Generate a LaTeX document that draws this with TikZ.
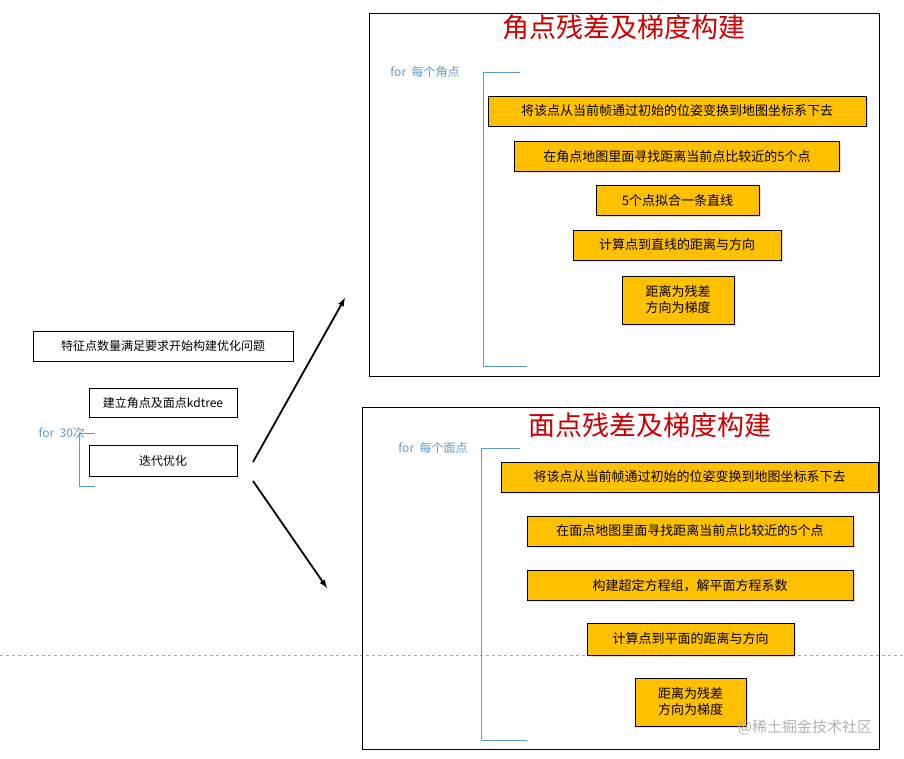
\documentclass[tikz,border=0pt]{standalone}
\usepackage{fontspec}
\setmainfont{Noto Sans CJK SC}
\usetikzlibrary{shadows}
\definecolor{gold}{HTML}{FFC000}
\definecolor{bl}{HTML}{5B9BD5}
\begin{document}
\begin{tikzpicture}[x=1pt,y=-1pt,
  ob/.style={draw=black,fill=gold,line width=0.8pt,minimum height=30pt,inner sep=0pt,font=\fontsize{13}{16}\selectfont,align=center,drop shadow={shadow xshift=1.5pt,shadow yshift=-1.5pt,opacity=0.25}},
  wb/.style={draw=black,fill=white,line width=0.6pt,minimum height=30pt,inner sep=0pt,font=\fontsize{12}{14}\selectfont},
  frm/.style={draw=black,line width=0.7pt},
  ttl/.style={text=red!80!black,font=\fontsize{27}{30}\selectfont},
  fl/.style={text=bl,font=\fontsize{12}{14}\selectfont},
  brk/.style={draw=bl,line width=0.8pt},
  arr/.style={draw=black,line width=1.8pt,-latex}]
\useasboundingbox (0,0) rectangle (904,759);
\draw[gray!70,dashed,line width=0.6pt] (0,655) -- (904,655);
% top frame
\node[frm,minimum width=510pt,minimum height=363pt,inner sep=0pt] (f1) at (624,194.5) {};
\node[ttl] (t1) at (624,27) {角点残差及梯度构建};
\node[fl] (l1) at (425,72) {for\ \ 每个角点};
\coordinate (b1a) at (520,72); \coordinate (b1b) at (527,366);
\draw[brk] (b1a) -- (483,72) -- (483,366) -- (b1b);
\node[ob,minimum width=378pt] (a1) at (677,111) {将该点从当前帧通过初始的位姿变换到地图坐标系下去};
\node[ob,minimum width=325pt] (a2) at (677,156.5) {在角点地图里面寻找距离当前点比较近的5个点};
\node[ob,minimum width=163pt] (a3) at (677.5,200.5) {5个点拟合一条直线};
\node[ob,minimum width=208pt] (a4) at (677,245) {计算点到直线的距离与方向};
\node[ob,minimum width=112pt,minimum height=48pt] (a5) at (678,300) {距离为残差\\方向为梯度};
% bottom frame
\node[frm,minimum width=517pt,minimum height=342pt,inner sep=0pt] (f2) at (620.5,578) {};
\node[ttl] (t2) at (650,425) {面点残差及梯度构建};
\node[fl] (l2) at (433,448) {for\ \ 每个面点};
\coordinate (b2a) at (520,448); \coordinate (b2b) at (527,740);
\draw[brk] (b2a) -- (481,448) -- (481,740) -- (b2b);
\node[ob,minimum width=377pt] (c1) at (689.5,477) {将该点从当前帧通过初始的位姿变换到地图坐标系下去};
\node[ob,minimum width=326pt] (c2) at (690,531) {在面点地图里面寻找距离当前点比较近的5个点};
\node[ob,minimum width=326pt] (c3) at (690,585.5) {构建超定方程组，解平面方程系数};
\node[ob,minimum width=207pt,minimum height=32pt] (c4) at (690.5,639) {计算点到平面的距离与方向};
\node[ob,minimum width=111pt,minimum height=48pt] (c5) at (690.5,702) {距离为残差\\方向为梯度};
% left
\node[wb,minimum width=260pt] (w1) at (163,346) {特征点数量满足要求开始构建优化问题};
\node[wb,minimum width=148pt,minimum height=29pt] (w2) at (163,402.5) {建立角点及面点kdtree};
\node[wb,minimum width=148pt,minimum height=31pt] (w3) at (163,460.5) {迭代优化};
\node[fl] (l3) at (35,433) [anchor=west] {for\ \ 30次};
\coordinate (b3a) at (95,433); \coordinate (b3b) at (95,486);
\draw[brk] (b3a) -- (79,433) -- (79,486) -- (b3b);
\coordinate (p1) at (253,462); \coordinate (q1) at (345,298);
\coordinate (p2) at (253,481); \coordinate (q2) at (327,588);
\draw[arr] (p1) -- (q1);
\draw[arr] (p2) -- (q2);
\node[text=gray!60,font=\fontsize{15}{18}\selectfont] (wm) at (805,727) {@稀土掘金技术社区};
\end{tikzpicture}
\end{document}
